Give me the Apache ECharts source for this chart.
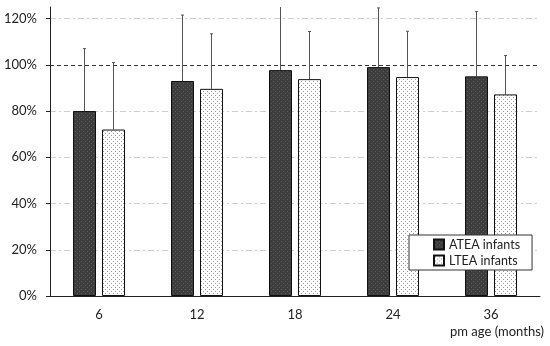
<!DOCTYPE html>
<html>
<head>
<meta charset="utf-8">
<script src="https://cdn.jsdelivr.net/npm/echarts@6/dist/echarts.min.js"></script>
<style>
    html, body {margin: 0; padding: 0; background: #fff;}
    #chart {width: 550px; height: 346px;}
</style>
</head>
<body>
<div id="chart"></div>
<script>
    // 数据
    const categories = ['6', '12', '18', '24', '36'];
    const ateaMean = [80, 93, 97.7, 99, 95];
    const ateaSD = [27, 28.5, 30, 25.6, 28];
    const lteaMean = [72, 89.6, 93.8, 94.7, 87.2];
    const lteaSD = [29, 23.8, 20.6, 19.8, 16.8];
    const gridTicks = [20, 40, 60, 80, 120];
    const refLine = 100;

    const font = 'Lato, "Open Sans", sans-serif';
    const barWidth = 23;
    const barGap = 6;

    // 点状填充
    const dotPattern = (bg, dot) => {
        const c = document.createElement('canvas');
        c.width = 4; c.height = 4;
        const ctx = c.getContext('2d');
        ctx.fillStyle = bg;
        ctx.fillRect(0, 0, 4, 4);
        ctx.fillStyle = dot;
        ctx.fillRect(1, 1, 1, 1);
        ctx.fillRect(3, 3, 1, 1);
        return {image: c, repeat: 'repeat'};
    };

    const errorSeries = (mean, sd, offset) => ({
        type: 'custom',
        silent: true,
        clip: true,
        z: 1,
        data: mean.map((m, i) => [i, m, m + sd[i]]),
        renderItem: (params, api) => {
            const base = api.coord([api.value(0), api.value(1)]);
            const top = api.coord([api.value(0), api.value(2)]);
            const x = base[0] + offset;
            return {
                type: 'group',
                children: [
                    {type: 'line', shape: {x1: x, y1: base[1], x2: x, y2: top[1]},
                        style: {stroke: '#555', lineWidth: 1}},
                    {type: 'line', shape: {x1: x - 1.5, y1: top[1], x2: x + 1.5, y2: top[1]},
                        style: {stroke: '#555', lineWidth: 1}},
                ]
            };
        }
    });

    const chart = echarts.init(document.getElementById('chart'));
    const half = (barWidth + barGap) / 2;
    const option = {
        animation: false,
        textStyle: {fontFamily: font},
        grid: {left: 50, right: 10, top: 7, bottom: 50},
        legend: {
            orient: 'vertical',
            left: 409,
            top: 235,
            padding: [3, 12, 3, 24],
            itemGap: 3,
            itemWidth: 10,
            itemHeight: 10,
            icon: 'rect',
            borderColor: '#333',
            borderWidth: 1,
            borderRadius: 0,
            backgroundColor: '#fff',
            textStyle: {fontSize: 12.5, color: '#222', fontFamily: font},
            data: ['ATEA infants', 'LTEA infants'],
        },
        xAxis: {
            type: 'category',
            data: categories,
            axisLine: {lineStyle: {color: '#222'}},
            axisTick: {show: false},
            axisLabel: {fontSize: 13, color: '#222', margin: 12},
        },
        yAxis: {
            type: 'value',
            min: 0,
            max: 125,
            interval: 20,
            axisLine: {show: true, lineStyle: {color: '#222'}},
            axisTick: {show: true, length: 4, inside: false, lineStyle: {color: '#222'}},
            axisLabel: {fontSize: 13, color: '#222', margin: 13, showMaxLabel: false, formatter: v => v + '%'},
            splitLine: {show: false},
        },
        graphic: [{
            type: 'text', right: 6, top: 325,
            style: {text: 'pm age (months)', fontSize: 13, fill: '#222', fontFamily: font}
        }],
        series: [
            {
                name: 'ATEA infants',
                type: 'bar',
                barWidth: barWidth,
                barGap: (barGap / barWidth * 100) + '%',
                z: 2,
                itemStyle: {color: dotPattern('#3d3d3d', '#5a5a5a'), borderColor: '#111', borderWidth: 1},
                data: ateaMean,
                markLine: {
                    silent: true,
                    symbol: 'none',
                    label: {show: false},
                    z: 0,
                    data: gridTicks.map(v => ({yAxis: v, lineStyle: {color: '#cfcfcf', type: [6, 3, 2, 3], width: 1}}))
                        .concat([{yAxis: refLine, lineStyle: {color: '#333', type: [4, 3], width: 1}}]),
                },
            },
            {
                name: 'LTEA infants',
                type: 'bar',
                barWidth: barWidth,
                z: 2,
                itemStyle: {color: dotPattern('#ffffff', '#9a9a9a'), borderColor: '#111', borderWidth: 1},
                data: lteaMean,
            },
            errorSeries(ateaMean, ateaSD, -half),
            errorSeries(lteaMean, lteaSD, half),
        ]
    };
    chart.setOption(option);
</script>
</body>
</html>
